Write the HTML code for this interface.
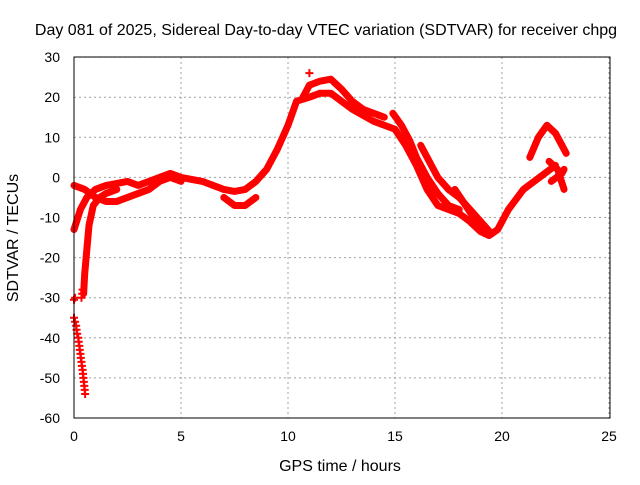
<!DOCTYPE html>
<html><head><meta charset="utf-8"><style>
body{margin:0;background:#fff}
svg text{font-family:"Liberation Sans",sans-serif;font-size:14px;fill:#000}
svg text.big{font-size:16px}
</style></head><body>
<svg id="c" width="640" height="480">
<text class="big" x="326" y="35" text-anchor="middle">Day 081 of 2025, Sidereal Day-to-day VTEC variation (SDTVAR) for receiver chpg</text>
<text class="big" x="340" y="471" text-anchor="middle">GPS time / hours</text>
<text class="big" transform="translate(18,238) rotate(-90)" text-anchor="middle">SDTVAR / TECUs</text>
<g id="grid"></g><g id="marks"></g>
<rect x="74" y="57" width="536" height="361" fill="none" stroke="#000"/>
</svg>
<script>
const xTicks=[0,5,10,15,20,25];
const yTicks=[30,20,10,0,-10,-20,-30,-40,-50,-60];
const trackMain=[[0,-13],[0.3,-8],[0.6,-5],[1,-3],[1.5,-2],[2,-1.5],[2.5,-1],[3,-2],[3.5,-1],[4,0],[4.5,1],[5,0],[6,-1],[7,-3],[7.5,-3.5],[8,-3],[8.5,-1],[9,2],[9.5,7],[10,13],[10.4,19],[11,20],[11.5,21],[12,21],[12.5,19],[13,17],[13.5,15.5],[14,14],[14.5,13],[15,12],[15.5,8],[16,3],[16.5,-3],[17,-7],[17.5,-8],[18,-9],[18.5,-11],[19,-13.5],[19.4,-14.5],[19.8,-13],[20.3,-8],[21,-3],[21.5,-1],[22,1],[22.5,3]];
const trackUpper=[[10.7,20],[11,23],[11.5,24],[12,24.5],[12.5,22],[13,19],[13.5,17],[14,16],[14.5,15]];
const trackFall=[[14.9,16],[15.3,13],[15.7,9],[16,5],[16.5,0],[17,-4],[17.5,-7],[18,-8]];
const trackB=[[16.2,8],[16.7,3],[17,0],[17.5,-3],[18,-5],[18.5,-8],[19,-11],[19.5,-14]];
const trackC=[[17.8,-3],[18.3,-7],[18.8,-11],[19.2,-14]];
const trackLoop=[[0,-2],[0.5,-3],[1,-5],[1.5,-6],[2,-6],[2.5,-5],[3,-4],[3.5,-3],[4,-1],[4.5,0],[5,-1]];
const trackDrop=[[2,-3],[1.5,-4],[1.2,-5],[0.9,-7],[0.7,-12],[0.6,-18],[0.5,-24],[0.45,-29]];
const trackLow=[[7,-5],[7.5,-7],[8,-7],[8.5,-5]];
const trackEnd1=[[21.3,5],[21.7,10],[22.1,13],[22.5,11],[22.8,8],[23,6]];
const trackEnd2=[[22.2,4],[22.6,2],[22.9,-3]];
const trackEnd3=[[22.3,-1],[22.8,1],[22.9,2]];
const dots=[[0,-35],[0.05,-36],[0.1,-37],[0.12,-38],[0.15,-39],[0.2,-40],[0.22,-41],[0.25,-42],[0.27,-43],[0.3,-44],[0.32,-45],[0.35,-46],[0.37,-47],[0.4,-48],[0.42,-49],[0.44,-50],[0.46,-51],[0.48,-52],[0.5,-53],[0.52,-54],[0.05,-30],[0,-30.5],[11,26],[0.4,-28],[0.38,-29],[0.35,-30]];
const tracks=[trackMain,trackUpper,trackFall,trackB,trackC,trackLoop,trackDrop,trackLow,trackEnd1,trackEnd2,trackEnd3];
const X=h=>74+h*21.4, Y=v=>177.4-v*4.01;
const NS="http://www.w3.org/2000/svg";
const svg=document.getElementById('c'),g=document.getElementById('grid'),m=document.getElementById('marks');
function mk(t,a,p){const e=document.createElementNS(NS,t);for(const k in a)e.setAttribute(k,a[k]);p.appendChild(e);return e;}
xTicks.forEach(t=>{
 const l=mk('line',{x1:X(t),x2:X(t),y1:57,y2:418,stroke:'#a0a0a0','stroke-dasharray':'2,3'},g);
 
 
 const tx=mk('text',{x:X(t),y:441,'text-anchor':'middle'},svg);tx.textContent=t;
 
 
});
yTicks.forEach(t=>{
 const l=mk('line',{x1:74,x2:610,y1:Y(t),y2:Y(t),stroke:'#a0a0a0','stroke-dasharray':'2,3'},g);
 
 
 const tx=mk('text',{x:60,y:Y(t)+5,'text-anchor':'end'},svg);tx.textContent=t;
 
 
});
tracks.forEach(tr=>{
 const p=mk('polyline',{points:tr.map(d=>X(d[0])+','+Y(d[1])).join(' '),fill:'none',stroke:'#f00','stroke-width':7,'stroke-linejoin':'round','stroke-linecap':'round'},m);
 
 
});
dots.forEach(d=>{
 const x=X(d[0]),y=Y(d[1]);
 const p=mk('path',{d:`M${x-4},${y}H${x+4}M${x},${y-4}V${y+4}`,stroke:'#f00','stroke-width':2},m);
 
 
});
</script>
</body></html>
